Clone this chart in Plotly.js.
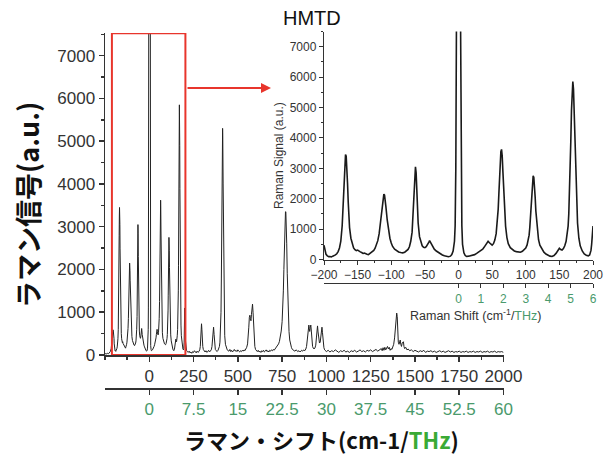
<!DOCTYPE html>
<html>
<head>
<meta charset="utf-8">
<script src="https://cdn.plot.ly/plotly-3.0.1.min.js"></script>
<style>html,body{margin:0;padding:0;background:#fff;}#chart{width:605px;height:456px;}</style>
</head>
<body>
<div id="chart"></div>
<script>
// ---- Data ----
// Inset spectrum, Raman shift -200..200 cm-1
const insetX = [-200,-199,-198,-197,-195,-193,-191,-189,-187,-185,-183,-181,-179,-177,-175,-173,-172,-171,-170,-169,-168,-167,-166,-165,-164,-163,-162,-160,-158,-156,-154,-152,-150,-148,-146,-144,-142,-140,-138,-136,-134,-132,-130,-128,-126,-124,-122,-120,-118,-116,-114,-112,-111,-110,-109,-108,-106,-104,-102,-100,-98,-95,-92,-89,-86,-83,-80,-77,-75,-73,-71,-69,-68,-67,-66,-65,-64,-63,-62,-61,-60,-58,-56,-54,-52,-50,-48,-46,-44,-43,-42,-40,-38,-36,-33,-30,-27,-24,-21,-18,-15,-12,-10,-8,-6,-5,-4,-3,0,3,4,5,6,8,10,12,15,18,21,24,27,30,33,36,38,40,42,44,46,48,50,52,54,56,58,59,60,61,62,63,64,65,66,67,68,70,72,74,77,80,83,86,89,92,95,98,100,102,104,105,106,107,108,109,110,111,112,113,114,115,117,119,121,124,127,130,133,136,139,142,145,148,150,152,154,156,158,160,162,163,164,165,166,167,168,169,170,171,172,173,174,175,177,179,181,184,187,190,193,195,197,198,199,200];
const insetY = [470,380,260,170,120,95,100,85,110,120,150,190,260,380,600,1100,1600,2200,2800,3250,3450,3400,3050,2500,1900,1400,1050,700,500,380,320,290,310,270,250,230,200,210,180,170,160,190,210,250,300,370,470,620,850,1200,1650,2000,2150,2120,1980,1750,1300,950,700,540,430,340,290,250,230,220,240,280,330,420,600,900,1300,1850,2500,2950,3050,2850,2300,1700,1200,750,560,450,400,390,420,480,570,620,580,480,400,340,280,230,190,150,120,100,90,110,160,280,600,1100,3000,8000,30000,8000,3000,1100,500,220,130,100,110,120,140,160,200,240,290,340,400,480,560,600,550,490,470,520,640,850,1250,1650,2150,2700,3200,3550,3620,3400,2900,2300,1750,1100,720,520,390,320,280,260,250,240,270,320,380,480,650,800,1050,1400,1850,2300,2600,2750,2700,2450,2050,1600,1000,650,470,330,240,180,140,110,100,130,200,300,370,330,310,360,450,600,850,1100,1500,2100,2900,3900,4900,5600,5850,5600,4900,3900,2900,2100,1200,700,450,280,180,140,120,150,300,500,800,1100];

// Main spectrum: part left of the inset window
const leftX = [-250,-245,-240,-235,-230,-225,-220,-215,-212,-209,-207,-205,-203,-201];
const leftY = [20,35,25,40,30,50,80,150,300,480,570,590,560,500];

// Main spectrum: part right of the inset window
const rightX = [202,204,207,210,215,220,225,230,235,240,245,250,255,260,265,270,275,280,285,288,291,293,295,297,299,302,305,310,315,320,325,330,335,340,345,350,354,357,360,363,366,369,373,378,383,388,392,396,399,402,405,407,409,411,413,414,415,417,419,421,423,426,430,435,440,445,450,455,460,465,470,475,480,485,490,495,500,505,510,515,520,525,530,535,540,545,550,555,559,562,565,568,571,574,577,580,583,586,589,592,596,600,605,610,615,620,625,630,635,640,645,650,655,660,665,670,675,680,685,690,695,700,705,710,715,720,725,730,735,740,745,750,754,757,760,763,766,769,771,773,776,779,782,785,789,793,798,803,808,815,822,830,838,845,852,860,866,872,878,884,888,892,895,898,901,903,906,909,912,915,918,922,926,930,935,940,944,947,950,953,957,961,965,969,972,975,978,982,986,990,995,1000,1010,1020,1030,1040,1050,1060,1070,1080,1090,1100,1110,1120,1130,1140,1150,1160,1170,1180,1190,1200,1210,1220,1230,1240,1250,1260,1270,1280,1290,1300,1310,1315,1320,1325,1330,1335,1340,1345,1350,1355,1360,1365,1370,1375,1380,1385,1390,1394,1397,1400,1403,1406,1410,1414,1417,1420,1424,1428,1432,1435,1438,1442,1448,1455,1462,1470,1480,1490,1500,1510,1520,1530,1540,1550,1560,1570,1580,1590,1600,1610,1620,1630,1640,1650,1660,1670,1680,1690,1700,1710,1720,1730,1740,1750,1760,1770,1780,1790,1800,1810,1820,1830,1840,1850,1860,1870,1880,1890,1900,1910,1920,1930,1940,1950,1960,1970,1980,1990,2000];
const rightY = [700,350,180,110,80,60,90,50,70,40,80,60,100,70,50,90,60,80,120,200,400,650,730,600,350,200,130,90,70,100,60,80,110,70,90,120,200,350,550,650,480,250,130,100,80,110,140,200,300,550,1000,1800,3000,4300,5200,5300,5100,4000,2600,1500,850,450,250,160,120,100,90,130,80,110,70,100,130,90,110,80,120,90,70,100,80,110,90,120,100,140,180,260,400,650,880,930,850,800,950,1150,1190,1000,600,350,200,130,100,80,110,70,90,60,100,80,110,70,90,120,80,100,70,110,90,120,100,130,110,140,160,180,210,260,320,420,560,780,1100,1500,2000,2600,3100,3350,3350,3150,2600,1900,1300,900,550,350,230,170,130,110,90,120,80,100,70,110,90,120,100,140,200,350,550,690,700,620,550,650,700,560,330,200,160,140,160,230,420,620,680,540,350,280,300,430,600,650,520,300,170,120,100,80,110,70,100,80,120,90,60,100,80,110,70,90,60,100,80,110,70,90,120,80,100,70,110,90,120,80,100,130,90,120,150,100,170,110,180,120,150,200,140,180,110,150,130,180,250,400,700,950,980,900,500,300,250,330,350,250,200,280,300,310,200,150,180,120,140,100,120,80,110,90,70,100,80,110,60,90,80,100,70,90,60,80,100,70,90,60,80,100,70,90,60,80,70,90,60,80,70,90,60,80,70,90,60,80,70,90,60,80,70,90,60,80,70,90,60,80,70,80,60];

// Tick values
const mainCmTicks = [0,250,500,750,1000,1250,1500,1750,2000];
const mainTHzTicks = [0,7.5,15,22.5,30,37.5,45,52.5,60];
const mainYTicks = [0,1000,2000,3000,4000,5000,6000,7000];
const insetCmTicks = [-200,-150,-100,-50,0,50,100,150,200];
const insetTHzTicks = [0,1,2,3,4,5,6];
const insetYTicks = [0,1000,2000,3000,4000,5000,6000,7000];

// ---- Build ----
const mainX = leftX.concat(insetX, rightX);
const mainY = leftY.concat(insetY, rightY);

const W = 605, H = 456;
const px = v => v / W;          // pixel -> paper x
const py = v => (H - v) / H;    // pixel (from top) -> paper y

const numFont = {family: 'Liberation Sans, Arial, sans-serif', size: 17, color: '#333'};
const smallFont = {family: 'Liberation Sans, Arial, sans-serif', size: 12, color: '#333'};
const green = '#4a9a6c';
const brightGreen = '#3aaa35';

const traces = [
  {x: mainX, y: mainY, xaxis: 'x', yaxis: 'y', type: 'scatter', mode: 'lines',
   line: {color: '#222', width: 1}, hoverinfo: 'skip'},
  {x: insetX, y: insetY, xaxis: 'x2', yaxis: 'y2', type: 'scatter', mode: 'lines',
   line: {color: '#1a1a1a', width: 1.6}, hoverinfo: 'skip'},
  // empty traces that register the THz (secondary) axes
  {x: [], y: [], xaxis: 'x3', yaxis: 'y', type: 'scatter', mode: 'lines', hoverinfo: 'skip'},
  {x: [], y: [], xaxis: 'x4', yaxis: 'y2', type: 'scatter', mode: 'lines', hoverinfo: 'skip'}
];

const axisCommon = {showgrid: false, zeroline: false, showline: true, linecolor: '#333',
  ticks: 'outside', tickcolor: '#333', fixedrange: true, autorange: false};

const layout = {
  width: W, height: H,
  margin: {l: 0, r: 0, t: 0, b: 0},
  paper_bgcolor: '#fff', plot_bgcolor: 'rgba(0,0,0,0)',
  showlegend: false,
  title: {text: 'HMTD', x: px(283), xanchor: 'left', xref: 'paper', y: py(18), yanchor: 'middle', yref: 'container',
          font: {family: 'Liberation Sans, Arial, sans-serif', size: 20, color: '#111'}},
  xaxis: Object.assign({}, axisCommon, {
    domain: [px(105), px(503.5)], anchor: 'y', range: [-250, 2000],
    tickmode: 'array', tickvals: mainCmTicks, ticklen: 5, tickwidth: 1.5, linewidth: 1.5,
    tickfont: numFont,
    minor: {ticks: 'outside', ticklen: 3, tickcolor: '#333', dtick: 125, tick0: 0}
  }),
  yaxis: Object.assign({}, axisCommon, {
    domain: [py(355), py(33)], anchor: 'x', range: [0, 7530],
    tickmode: 'array', tickvals: mainYTicks, ticklen: 5, tickwidth: 1.5, linewidth: 1.5,
    tickfont: numFont,
    minor: {ticks: 'outside', ticklen: 3, tickcolor: '#333', dtick: 500, tick0: 0}
  }),
  xaxis3: Object.assign({}, axisCommon, {
    overlaying: 'x', anchor: 'free', position: py(388), side: 'bottom', range: [-7.5, 60],
    tickmode: 'array', tickvals: mainTHzTicks, ticklen: 5, tickwidth: 1.5, linewidth: 1.5,
    tickfont: {family: numFont.family, size: 17, color: green}
  }),
  xaxis2: Object.assign({}, axisCommon, {
    domain: [px(324), px(593)], anchor: 'y2', range: [-200, 200],
    tickmode: 'array', tickvals: insetCmTicks, ticklen: 4, tickwidth: 1, linewidth: 1.2,
    tickfont: smallFont,
    minor: {ticks: 'outside', ticklen: 2, tickcolor: '#333', dtick: 25, tick0: 0}
  }),
  yaxis2: Object.assign({}, axisCommon, {
    domain: [py(259.5), py(31.5)], anchor: 'x2', range: [0, 7500],
    tickmode: 'array', tickvals: insetYTicks, ticklen: 4, tickwidth: 1, linewidth: 1.2,
    tickfont: smallFont,
    minor: {ticks: 'outside', ticklen: 2, tickcolor: '#333', dtick: 500, tick0: 0}
  }),
  xaxis4: Object.assign({}, axisCommon, {
    overlaying: 'x2', anchor: 'free', position: py(283), side: 'bottom', range: [-6, 6],
    tickmode: 'array', tickvals: insetTHzTicks, ticklen: 4, tickwidth: 1, linewidth: 1.2,
    tickfont: {family: smallFont.family, size: 12, color: green}
  }),
  shapes: [
    {type: 'rect', xref: 'x', yref: 'y', x0: -211, x1: 204, y0: 0, y1: 7525,
     line: {color: '#e8352c', width: 2}, fillcolor: 'rgba(0,0,0,0)', layer: 'above'}
  ],
  annotations: [
    {xref: 'paper', yref: 'paper', x: px(271), y: py(88), ax: -85, ay: 0, text: '',
     showarrow: true, arrowhead: 2, arrowsize: 1, arrowwidth: 2, arrowcolor: '#e8352c'},
    {xref: 'paper', yref: 'paper', x: px(27), y: py(205), text: 'ラマン信号(a.u.)', textangle: -90,
     showarrow: false, xanchor: 'center', yanchor: 'middle',
     font: {family: 'Noto Sans CJK JP', size: 27, color: '#111', weight: 'bold'}},
    {xref: 'paper', yref: 'paper', x: px(321), y: py(439),
     text: 'ラマン・シフト(cm-1/<span style="color:' + brightGreen + '">THz</span>)',
     showarrow: false, xanchor: 'center', yanchor: 'middle',
     font: {family: 'Noto Sans CJK JP', size: 22, color: '#111', weight: 'bold'}},
    {xref: 'paper', yref: 'paper', x: px(279), y: py(156), text: 'Raman Signal (a.u.)', textangle: -90,
     showarrow: false, xanchor: 'center', yanchor: 'middle',
     font: {family: 'Liberation Sans, Arial, sans-serif', size: 12, color: '#333'}},
    {xref: 'paper', yref: 'paper', x: px(475), y: py(315),
     text: 'Raman Shift (cm<sup>-1</sup>/<span style="color:' + green + '">THz</span>)',
     showarrow: false, xanchor: 'center', yanchor: 'middle',
     font: {family: 'Liberation Sans, Arial, sans-serif', size: 12.5, color: '#333'}}
  ]
};

Plotly.newPlot('chart', traces, layout, {displayModeBar: false, staticPlot: true});
</script>
</body>
</html>
